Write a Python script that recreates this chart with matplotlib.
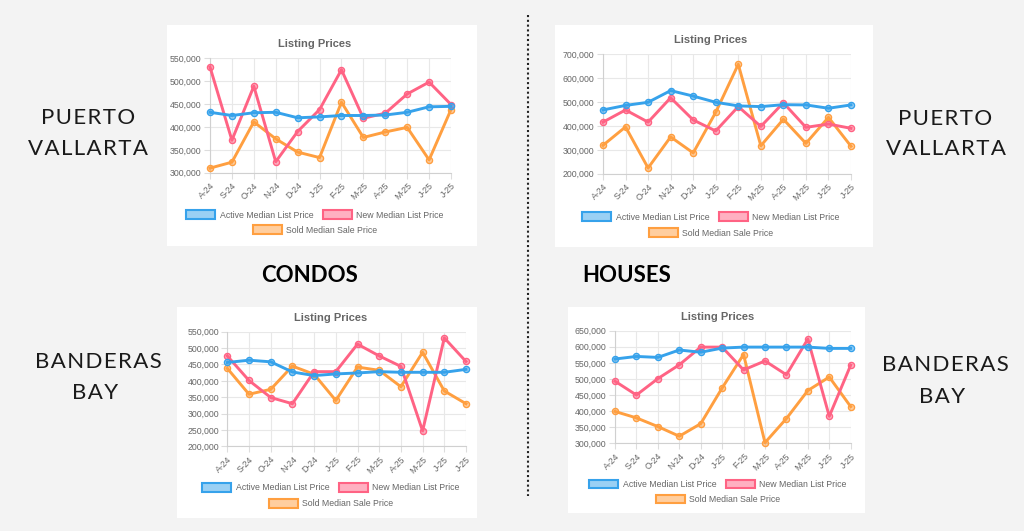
import matplotlib
matplotlib.use("Agg")
import matplotlib.pyplot as plt
from matplotlib.patches import Rectangle, Patch
from matplotlib.lines import Line2D
from matplotlib.ticker import FuncFormatter, MultipleLocator

months = ["A-24", "S-24", "O-24", "N-24", "D-24", "J-25", "F-25", "M-25", "A-25", "M-25", "J-25", "J-25"]
series_names = ["Active Median List Price", "New Median List Price", "Sold Median Sale Price"]

pv_condo_active = [432, 425, 431, 432, 420, 422, 425, 425, 426, 432, 444, 445]
pv_condo_new = [531, 371, 489, 324, 390, 438, 525, 419, 430, 472, 498, 449]
pv_condo_sold = [310, 323, 411, 374, 345, 333, 454, 377, 389, 399, 328, 438]

pv_house_active = [467, 486, 499, 548, 525, 499, 484, 481, 489, 488, 474, 488]
pv_house_new = [416, 467, 416, 518, 425, 379, 481, 398, 497, 394, 408, 390]
pv_house_sold = [319, 396, 224, 354, 287, 457, 658, 317, 428, 327, 436, 315]

bb_condo_active = [456, 463, 458, 427, 416, 421, 424, 428, 426, 426, 426, 435]
bb_condo_new = [476, 401, 349, 330, 428, 428, 512, 476, 444, 247, 531, 459]
bb_condo_sold = [438, 359, 374, 445, 420, 340, 442, 432, 382, 487, 369, 330]

bb_house_active = [562, 570, 567, 590, 583, 596, 599, 599, 599, 599, 595, 595]
bb_house_new = [493, 450, 501, 544, 599, 599, 528, 556, 513, 624, 384, 543]
bb_house_sold = [399, 379, 352, 322, 361, 472, 576, 302, 377, 464, 506, 414]

W, H = 1024, 531
fig = plt.figure(figsize=(W / 100, H / 100), dpi=100)
fig.patch.set_facecolor("#f3f3f3")

def fx(x):
    return x / W

def fy(y):
    return 1 - y / H

colors = ["#36a2eb", "#ff6384", "#ff9f40"]
light = [(54/255, 162/255, 235/255, 0.5), (1, 99/255, 132/255, 0.5), (1, 159/255, 64/255, 0.5)]
TXT = "#666666"
FS = 6.3

panels = [
    ((167, 25, 477, 246), (210, 58.3, 451, 172.7), (300, 550), 50, 315, 44, (215, 230),
     (pv_condo_active, pv_condo_new, pv_condo_sold)),
    ((555, 25, 873, 247), (603, 54.3, 851, 173.7), (200, 700), 100, 711, 40, (217, 233),
     (pv_house_active, pv_house_new, pv_house_sold)),
    ((177, 307, 477, 518), (227.3, 331.7, 466, 446.3), (200, 550), 50, 331, 317.7, (487.7, 503.7),
     (bb_condo_active, bb_condo_new, bb_condo_sold)),
    ((568, 307, 865, 513), (615, 330.7, 850.7, 443.3), (300, 650), 50, 718, 316.7, (484.3, 499.3),
     (bb_house_active, bb_house_new, bb_house_sold)),
]

for box, axbox, ylim, ystep, tcx, ty, legy, data in panels:
    l, t, r, b = box
    fig.patches.append(Rectangle((fx(l), fy(b)), fx(r - l), (b - t) / H,
                                 transform=fig.transFigure, facecolor="white",
                                 edgecolor="none", zorder=-5))
    al, at, ar, ab = axbox
    ax = fig.add_axes([fx(al), fy(ab), fx(ar - al), (ab - at) / H])
    ax.set_zorder(2)
    ax.set_facecolor("white")
    x = list(range(len(months)))
    for i in [2, 1, 0]:
        vals = [v * 1000 for v in data[i]]
        ax.plot(x, vals, color=colors[i], lw=2.1, marker="o", ms=4.4,
                mfc=light[i], mec=colors[i], mew=1.0, clip_on=False, zorder=3 + (2 - i))
    ax.set_xlim(0, len(months) - 1)
    ax.set_ylim(ylim[0] * 1000, ylim[1] * 1000)
    ax.yaxis.set_major_locator(MultipleLocator(ystep * 1000))
    ax.yaxis.set_major_formatter(FuncFormatter(lambda v, p: f"{int(v):,}"))
    ax.set_xticks(x)
    ax.set_xticklabels(months, rotation=45, ha="right", rotation_mode="anchor",
                       family="Liberation Sans")
    for lab in ax.get_yticklabels():
        lab.set_family("Liberation Sans")
    ax.tick_params(axis="both", labelsize=FS, colors="#dddddd", labelcolor=TXT,
                   length=4, width=0.8, pad=2)
    ax.grid(True, color="#e8e8e8", lw=0.8, zorder=0)
    for s in ["top", "right"]:
        ax.spines[s].set_visible(False)
    for s in ["left", "bottom"]:
        ax.spines[s].set_color("#d0d0d0")
        ax.spines[s].set_linewidth(0.8)
    fig.text(fx(tcx), fy(ty), "Listing Prices", ha="center", va="center",
             fontsize=8, fontweight="bold", color=TXT, family="Liberation Sans")
    handles = [Patch(facecolor=light[i], edgecolor=colors[i], linewidth=1.5, label=series_names[i])
               for i in range(3)]
    fig.legend(handles=handles[:2], loc="center", bbox_to_anchor=(fx(tcx), fy(legy[0])),
               ncol=2, frameon=False, prop={"family": "Liberation Sans", "size": FS},
               handlelength=3.3, handleheight=1.1, handletextpad=0.5,
               columnspacing=1.1, borderpad=0, labelcolor=TXT)
    fig.legend(handles=handles[2:], loc="center", bbox_to_anchor=(fx(tcx), fy(legy[1])),
               ncol=1, frameon=False, prop={"family": "Liberation Sans", "size": FS},
               handlelength=3.3, handleheight=1.1, handletextpad=0.5,
               borderpad=0, labelcolor=TXT)

def spaced(s):
    return "\u200a".join(s)

side_font = dict(fontsize=16, color="#1a1a1a", family="Lato",
                 ha="center", va="center")
fig.text(fx(88), fy(118), spaced("PUERTO"), **side_font)
fig.text(fx(88), fy(149), spaced("VALLARTA"), **side_font)
fig.text(fx(945), fy(119), spaced("PUERTO"), **side_font)
fig.text(fx(946), fy(149), spaced("VALLARTA"), **side_font)
fig.text(fx(98), fy(362), spaced("BANDERAS"), **side_font)
fig.text(fx(95), fy(393), spaced("BAY"), **side_font)
fig.text(fx(945), fy(365), spaced("BANDERAS"), **side_font)
fig.text(fx(942), fy(397), spaced("BAY"), **side_font)

head_font = dict(fontsize=16, color="#000000", family="Lato", fontweight="bold",
                 ha="center", va="center")
fig.text(fx(310), fy(275), "CONDOS", **head_font)
fig.text(fx(627), fy(275), "HOUSES", **head_font)

fig.add_artist(Line2D([fx(528), fx(528)], [fy(15), fy(496)], transform=fig.transFigure,
                      color="#222222", lw=1.5, linestyle=(0, (1, 1.3))))

fig.savefig("out.png", dpi=100, facecolor=fig.get_facecolor())
